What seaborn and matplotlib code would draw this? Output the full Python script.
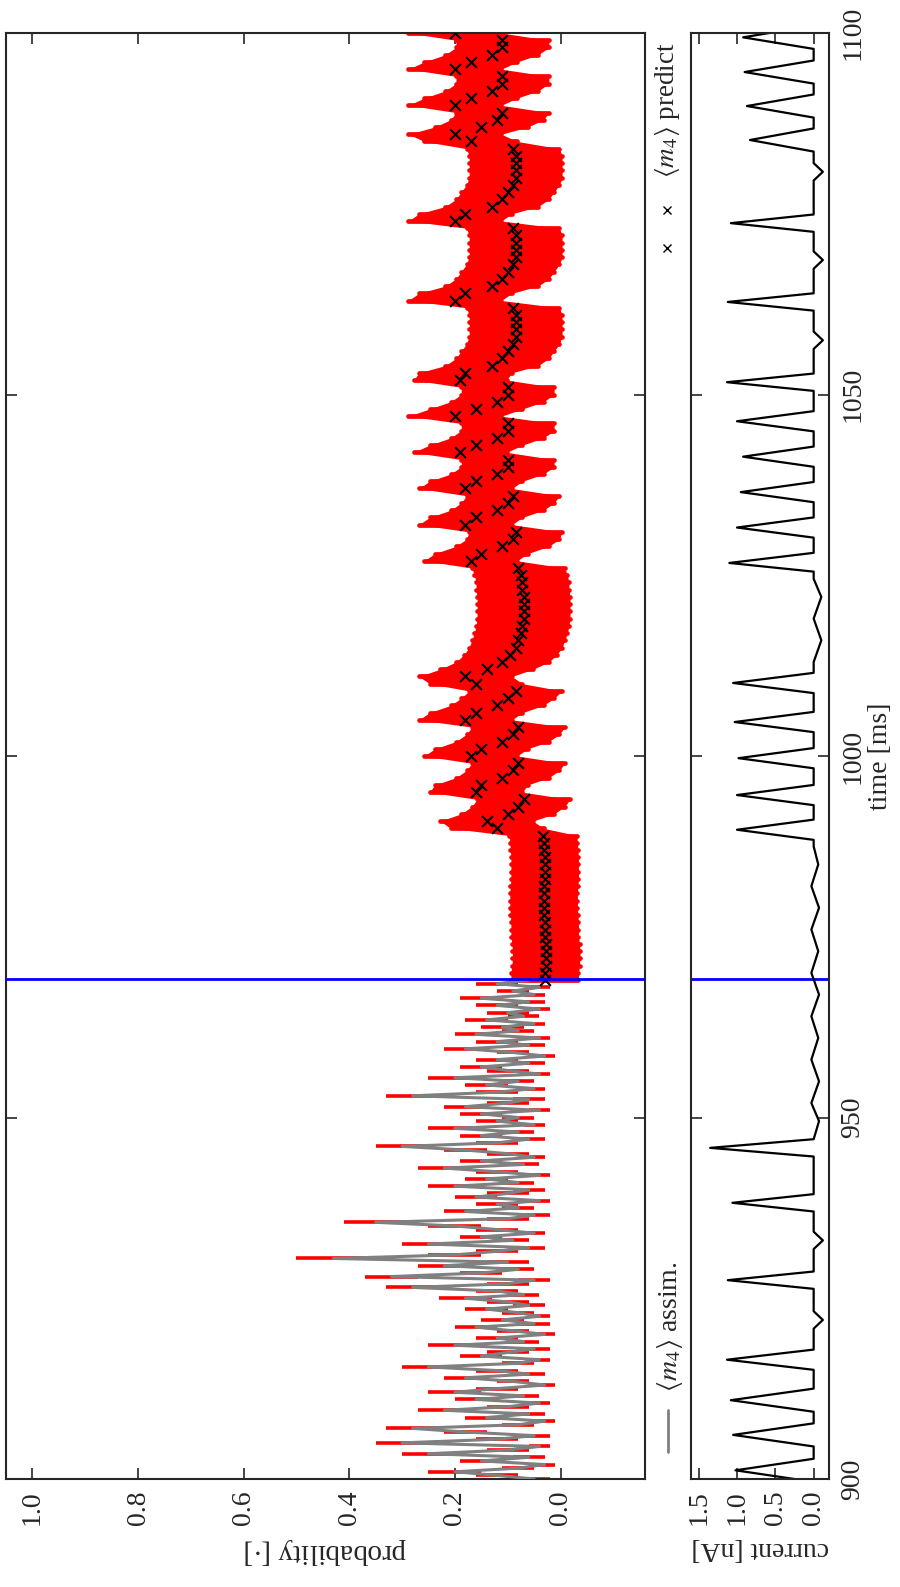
import numpy as np
import matplotlib
matplotlib.use('Agg')
import matplotlib.pyplot as plt
from matplotlib.lines import Line2D
import seaborn as sns

sns.set_style('ticks')
plt.rcParams['font.family'] = ['Liberation Serif', 'DejaVu Serif']
plt.rcParams['mathtext.fontset'] = 'stix'

# assimilation part, 900 - 969 ms every 0.5 ms
assim_t = np.arange(900.0, 969.5, 0.5)
assim_m = [0.05, 0.12, 0.20, 0.08, 0.03, 0.15, 0.06, 0.25, 0.10, 0.04,
           0.30, 0.12, 0.05, 0.18, 0.28, 0.08, 0.03, 0.14, 0.06, 0.22,
           0.10, 0.04, 0.16, 0.07, 0.20, 0.12, 0.03, 0.09, 0.18, 0.06,
           0.12, 0.25, 0.08, 0.04, 0.15, 0.10, 0.05, 0.20, 0.07, 0.12,
           0.03, 0.09, 0.16, 0.05, 0.11, 0.04, 0.08, 0.14, 0.06, 0.10,
           0.18, 0.07, 0.12, 0.28, 0.10, 0.05, 0.32, 0.15, 0.08, 0.22,
           0.10, 0.43, 0.20, 0.12, 0.06, 0.25, 0.09, 0.15, 0.05, 0.12,
           0.20, 0.35, 0.10, 0.05, 0.18, 0.08, 0.12, 0.04, 0.16, 0.10,
           0.06, 0.20, 0.08, 0.14, 0.04, 0.12, 0.22, 0.07, 0.15, 0.05,
           0.10, 0.18, 0.30, 0.12, 0.06, 0.15, 0.08, 0.20, 0.05, 0.12,
           0.08, 0.15, 0.04, 0.18, 0.10, 0.06, 0.28, 0.12, 0.05, 0.14,
           0.08, 0.20, 0.04, 0.10, 0.15, 0.06, 0.12, 0.03, 0.09, 0.18,
           0.06, 0.12, 0.04, 0.16, 0.08, 0.11, 0.05, 0.14, 0.07, 0.10,
           0.04, 0.12, 0.06, 0.15, 0.05, 0.09, 0.04, 0.12, 0.06]
assim_e = [0.03, 0.04, 0.05, 0.03, 0.02, 0.04, 0.03, 0.05, 0.04, 0.02,
           0.05, 0.04, 0.03, 0.04, 0.05, 0.03, 0.02, 0.04, 0.03, 0.05,
           0.04, 0.02, 0.04, 0.03, 0.05, 0.04, 0.02, 0.03, 0.04, 0.03,
           0.04, 0.05, 0.03, 0.02, 0.04, 0.04, 0.03, 0.05, 0.03, 0.04,
           0.02, 0.03, 0.04, 0.03, 0.04, 0.02, 0.03, 0.04, 0.03, 0.04,
           0.05, 0.03, 0.04, 0.05, 0.04, 0.03, 0.05, 0.04, 0.03, 0.05,
           0.04, 0.07, 0.05, 0.04, 0.03, 0.05, 0.03, 0.04, 0.02, 0.04,
           0.05, 0.06, 0.04, 0.03, 0.04, 0.03, 0.04, 0.02, 0.04, 0.04,
           0.03, 0.05, 0.03, 0.04, 0.02, 0.04, 0.05, 0.03, 0.04, 0.02,
           0.04, 0.04, 0.05, 0.04, 0.03, 0.04, 0.03, 0.05, 0.02, 0.04,
           0.03, 0.04, 0.02, 0.04, 0.04, 0.03, 0.05, 0.04, 0.02, 0.04,
           0.03, 0.05, 0.02, 0.04, 0.04, 0.03, 0.04, 0.02, 0.03, 0.04,
           0.03, 0.04, 0.02, 0.04, 0.03, 0.04, 0.02, 0.04, 0.03, 0.04,
           0.02, 0.04, 0.03, 0.04, 0.02, 0.03, 0.02, 0.04, 0.03]

# prediction part, 969 - 1100 ms every 1 ms
pred_t = np.arange(969, 1101)
pred_m = [0.030, 0.030, 0.028, 0.027, 0.027, 0.028, 0.030, 0.030, 0.030, 0.031,
          0.032, 0.032, 0.032, 0.031, 0.030, 0.030, 0.030, 0.030, 0.031, 0.032, 0.033,
          0.12, 0.14, 0.10, 0.08, 0.07, 0.16, 0.15, 0.11, 0.09, 0.08,
          0.17, 0.15, 0.11, 0.09, 0.08, 0.18, 0.16, 0.12, 0.10, 0.085,
          0.16, 0.18, 0.14, 0.11, 0.095, 0.085, 0.08, 0.075,
          0.072, 0.07, 0.07, 0.07, 0.07, 0.072, 0.072, 0.075, 0.08,
          0.17, 0.15, 0.11, 0.09, 0.085, 0.18, 0.16, 0.12, 0.10, 0.09,
          0.18, 0.16, 0.12, 0.10, 0.10, 0.19, 0.16, 0.12, 0.10, 0.10,
          0.20, 0.16, 0.12, 0.10, 0.10, 0.19, 0.18, 0.13, 0.11, 0.10,
          0.09, 0.085, 0.085, 0.085, 0.085, 0.09,
          0.20, 0.18, 0.13, 0.11, 0.10,
          0.09, 0.085, 0.085, 0.085, 0.085, 0.09,
          0.20, 0.18, 0.13, 0.11, 0.10,
          0.09, 0.085, 0.085, 0.085, 0.085, 0.09,
          0.17, 0.20, 0.15, 0.12, 0.11, 0.20, 0.17, 0.13, 0.11, 0.11,
          0.20, 0.17, 0.13, 0.11, 0.11, 0.20]
pred_s = [0.064] * 21 + [0.088] * 111

# injected current, corner points of the trace (time, nA)
cur_pts = [(900.0, 0.25), (901.2, 1.02), (902.8, 0.0), (904.5, 0.0), (906.1, 1.05),
           (907.7, 0.0), (909.3, 0.0), (910.9, 1.08), (912.5, 0.0), (915.1, 0.0),
           (916.5, 1.13), (917.9, 0.0), (920.8, 0.0), (922.0, -0.12), (923.2, 0.0),
           (926.3, 0.0), (927.5, 1.12), (928.7, 0.0), (931.8, 0.0), (933.0, -0.12),
           (934.2, 0.0), (937.0, 0.0), (938.2, 1.06), (939.4, 0.0), (944.6, 0.0),
           (945.8, 1.35), (947.0, 0.0), (949.5, -0.07), (952.0, 0.03), (955.0, -0.07),
           (958.0, 0.03), (961.0, -0.06), (964.0, 0.03), (967.0, -0.07), (970.0, 0.03),
           (973.0, -0.06), (976.0, 0.03), (979.0, -0.07), (982.0, 0.03), (985.0, -0.06),
           (987.5, 0.0), (988.4, 0.0), (989.8, 1.0), (991.2, 0.0), (993.2, 0.0),
           (994.6, 1.0), (996.0, 0.0), (998.3, 0.0), (999.7, 0.98), (1001.1, 0.0),
           (1003.3, 0.0), (1004.7, 1.03), (1006.1, 0.0), (1008.7, 0.0), (1010.1, 1.05),
           (1011.5, 0.0), (1013.0, 0.0), (1016.0, -0.1), (1019.0, 0.0), (1022.0, -0.1),
           (1024.5, 0.0), (1025.5, 0.0), (1026.7, 1.1), (1028.1, 0.0), (1030.2, 0.0),
           (1031.6, 1.0), (1033.0, 0.0), (1035.1, 0.0), (1036.5, 0.95), (1037.9, 0.0),
           (1040.0, 0.0), (1041.4, 0.92), (1042.8, 0.0), (1044.9, 0.0), (1046.3, 1.0),
           (1047.7, 0.0), (1050.5, 0.0), (1051.7, 1.13), (1052.9, 0.0), (1056.3, 0.0),
           (1057.5, -0.12), (1058.7, 0.0), (1061.6, 0.0), (1062.8, 1.12), (1064.0, 0.0),
           (1067.4, 0.0), (1068.6, -0.12), (1069.8, 0.0), (1072.5, 0.0), (1073.7, 1.08),
           (1074.9, 0.0), (1079.6, 0.0), (1080.8, -0.12), (1082.0, 0.0), (1083.6, 0.0),
           (1085.2, 0.83), (1086.8, 0.0), (1088.3, 0.0), (1089.9, 0.87), (1091.5, 0.0),
           (1093.0, 0.0), (1094.6, 0.9), (1096.2, 0.0), (1097.8, 0.0), (1099.4, 0.92),
           (1100.0, 0.58)]
cur_t = [p[0] for p in cur_pts]
cur_i = [p[1] for p in cur_pts]

t_switch = 969.1

W, H = 900, 1587
fig = plt.figure(figsize=(9, 15.87), dpi=100)
ax = fig.add_axes([6 / W, 108 / H, 639 / W, 1446 / H])
ax2 = fig.add_axes([691 / W, 108 / H, 138 / W, 1446 / H])

# assimilation: red error bars with grey mean on top
lo = np.array(assim_m) - np.array(assim_e)
hi = np.array(assim_m) + np.array(assim_e)
ax.hlines(assim_t, lo, hi, color='red', lw=2.6, zorder=2)
sns.lineplot(x=assim_m, y=assim_t, orient='y', sort=False, color='grey', lw=2.2,
             ax=ax, zorder=3)

# prediction: red band (round-capped error bars) and black crosses
pm = np.array(pred_m)
ps = np.array(pred_s)
ax.fill_betweenx(pred_t, pm - ps, pm + ps, color='red', lw=0, zorder=2)
ax.hlines(pred_t, pm - ps, pm + ps, color='red', lw=3.4, capstyle='round', zorder=2)
sns.scatterplot(x=pm, y=pred_t, marker='x', color='black', s=60, linewidth=1.5,
                ax=ax, zorder=4)

ax.axhline(t_switch, color='blue', lw=2, zorder=5)
ax2.axhline(t_switch, color='blue', lw=2)

sns.lineplot(x=cur_i, y=cur_t, orient='y', sort=False, color='black', lw=1.6, ax=ax2)

for a in (ax, ax2):
    a.set_ylim(900, 1100)
    a.set_yticks([900, 950, 1000, 1050, 1100])
    for s in a.spines.values():
        s.set_linewidth(1.5)
    a.tick_params(direction='in', length=8, width=1.2, top=True, bottom=True,
                  left=True, right=True, labelsize=20)

ax.set_xlim(1.05, -0.16)
ax.set_xticks([0.0, 0.2, 0.4, 0.6, 0.8, 1.0])
ax.set_xticklabels(['0.0', '0.2', '0.4', '0.6', '0.8', '1.0'])
ax.tick_params(axis='x', labelrotation=90, pad=8)
ax.tick_params(axis='y', labelleft=False, labelright=False)
ax.set_xlabel(r'probability [$\cdot$]', rotation=180, fontsize=21, labelpad=8)
ax.set_ylabel('')

ax2.set_xlim(1.6, -0.2)
ax2.set_xticks([0.0, 0.5, 1.0, 1.5])
ax2.set_xticklabels(['0.0', '0.5', '1.0', '1.5'])
ax2.tick_params(axis='x', labelrotation=90, pad=8)
ax2.tick_params(axis='y', labelleft=False, labelright=True, labelrotation=90, pad=8)
for lbl in ax2.get_yticklabels():
    lbl.set_va('center')
ax2.set_xlabel('current [nA]', rotation=180, fontsize=20, labelpad=8)
ax2.yaxis.set_label_position('right')
ax2.set_ylabel('time [ms]', rotation=90, fontsize=20, labelpad=2)

# legend drawn by hand, rotated like the rest of the figure
fig.add_artist(Line2D([668 / W, 668 / W], [1 - 1410 / H, 1 - 1452 / H], color='grey', lw=2))
fig.text(670 / W, 1 - 1392 / H, r'$\langle m_4\rangle$ assim.', rotation=90,
         ha='center', va='bottom', fontsize=20)
fig.add_artist(Line2D([667 / W, 667 / W], [1 - 210 / H, 1 - 248 / H], ls='none',
                      marker='x', color='black', ms=6, mew=1))
fig.text(667 / W, 1 - 178 / H, r'$\langle m_4\rangle$ predict', rotation=90,
         ha='center', va='bottom', fontsize=19.5)

fig.savefig('out.png', dpi=100)
